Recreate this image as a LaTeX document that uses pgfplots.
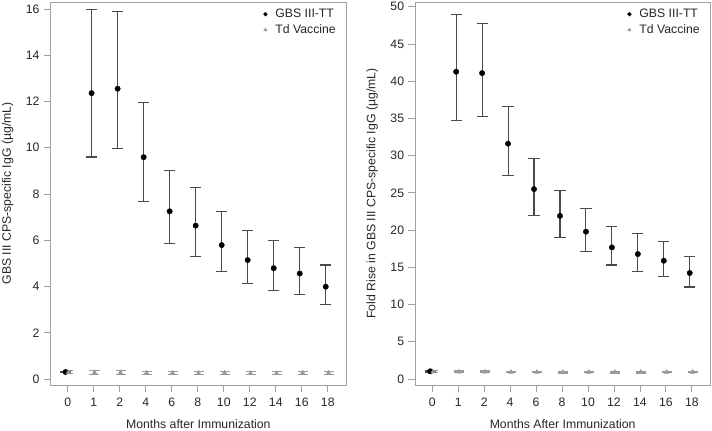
\documentclass[border=0pt]{standalone}
\usepackage{fontspec}
\setmainfont{Liberation Sans}
\usepackage{pgfplots}
\usepackage{pgfplotstable}
\pgfplotsset{compat=1.18}

\definecolor{spine}{HTML}{A0A0A0}
\definecolor{tdgray}{HTML}{999999}
\definecolor{bargray}{HTML}{4A4A4A}

\pgfplotstableread{
x      y      ep    em
-0.08  0.30   0.04  0.03
0.92   12.36  3.60  2.76
1.92   12.55  3.33  2.59
2.92   9.59   2.38  1.92
3.92   7.25   1.78  1.41
4.92   6.63   1.63  1.32
5.92   5.79   1.46  1.15
6.92   5.14   1.27  1.01
7.92   4.79   1.20  0.95
8.92   4.56   1.11  0.90
9.92   3.99   0.94  0.78
}\gbsL

\pgfplotstableread{
x      y      ep    em
0.03   0.29   0.07  0.07
1.03   0.28   0.07  0.07
2.03   0.28   0.07  0.07
3.03   0.27   0.07  0.07
4.03   0.27   0.07  0.07
5.03   0.25   0.07  0.06
6.03   0.27   0.07  0.07
7.03   0.25   0.07  0.06
8.03   0.25   0.07  0.06
9.03   0.27   0.07  0.07
10.03  0.26   0.07  0.07
}\tdL

\pgfplotstableread{
x      y      ep    em
-0.08  1.03   0.10  0.10
0.92   41.26  7.74  6.53
1.92   41.08  6.62  5.81
2.92   31.60  5.00  4.25
3.92   25.50  4.10  3.50
4.92   21.90  3.40  2.93
5.92   19.78  3.12  2.69
6.92   17.67  2.83  2.37
7.92   16.78  2.72  2.38
8.92   15.88  2.55  2.14
9.92   14.23  2.24  1.88
}\gbsR

\pgfplotstableread{
x      y      ep    em
0.03   0.97   0.12  0.12
1.03   0.95   0.12  0.12
2.03   0.95   0.12  0.12
3.03   0.93   0.12  0.12
4.03   0.93   0.12  0.12
5.03   0.92   0.12  0.12
6.03   0.93   0.12  0.12
7.03   0.92   0.12  0.12
8.03   0.92   0.12  0.12
9.03   0.93   0.12  0.12
10.03  0.93   0.12  0.12
}\tdR

\pgfplotsset{
  myaxis/.style={
    scale only axis,
    height=383bp,
    xmin=-0.654, xmax=10.70,
    xtick={0,...,10},
    xticklabels={0,1,2,4,6,8,10,12,14,16,18},
    tick pos=left,
    tick align=outside,
    major tick length=7bp,
    tick style={spine, line width=0.8bp},
    axis line style={spine, line width=0.8bp},
    every axis/.append style={font=\fontsize{12.3}{14}\selectfont},
    ticklabel style={font=\fontsize{12.3}{14}\selectfont, text=black!85},
    /pgf/number format/assume math mode=true,
    xticklabel style={inner sep=0pt, anchor=north, yshift=-5.5bp},
    yticklabel style={inner sep=0pt, anchor=east, xshift=-4bp},
    xlabel style={at={(rel axis cs:0.5,0)}, anchor=north, inner sep=0pt, yshift=-34bp, font=\fontsize{12.3}{14}\selectfont, text=black!85},
    ylabel style={anchor=north, inner sep=0pt, font=\fontsize{12.3}{14}\selectfont, text=black!85},
    legend style={at={(rel axis cs:1,1)}, anchor=north east, xshift=-8bp, yshift=-5bp,
      draw=none, fill=none, inner sep=0pt, row sep=1.5bp,
      font=\fontsize{12.3}{14}\selectfont, text=black!85},
    legend cell align=left,
    legend image code/.code={\path[draw=none, fill=none] (0bp,-2bp) rectangle (11bp,2bp); \draw[#1, mark size=1.9bp] plot coordinates {(3bp,0bp)};},
  },
  gbs/.style={only marks, mark=*, mark size=2.7bp, black, mark options={fill=black, draw=black},
    error bars/.cd, y dir=both, y explicit,
    error bar style={bargray, line width=1.1bp},
    error mark options={rotate=90, bargray, line width=1.1bp, mark size=5.6bp}},
  td/.style={only marks, mark=triangle*, mark size=2.6bp, tdgray, mark options={fill=tdgray, draw=tdgray},
    error bars/.cd, y dir=both, y explicit,
    error bar style={tdgray, line width=1.1bp},
    error mark options={rotate=90, tdgray, line width=1.1bp, mark size=5bp}},
}

\begin{document}
\begin{tikzpicture}
\useasboundingbox (0,0) rectangle (712bp,431bp);
\begin{axis}[myaxis,
  at={(50.7bp,46bp)}, anchor=south west,
  width=295.3bp,
  ymin=-0.26, ymax=16.30,
  ytick={0,2,...,16},
  xlabel={Months after Immunization},
  ylabel={GBS III CPS-specific IgG (µg/mL)},
  ylabel style={at={(axis description cs:-0.1659,0.5)}},
]
\addplot[gbs] table[x=x, y=y, y error plus=ep, y error minus=em] {\gbsL};
\addlegendentry{GBS III-TT}
\addplot[td] table[x=x, y=y, y error plus=ep, y error minus=em] {\tdL};
\addlegendentry{Td Vaccine}
\end{axis}

\begin{axis}[myaxis,
  at={(415.3bp,46bp)}, anchor=south west,
  width=294.7bp,
  ymin=-0.81, ymax=50.63,
  ytick={0,5,...,50},
  xlabel={Months After Immunization},
  ylabel={Fold Rise in GBS III CPS-specific IgG (µg/mL)},
  ylabel style={at={(axis description cs:-0.1663,0.5)}},
]
\addplot[gbs] table[x=x, y=y, y error plus=ep, y error minus=em] {\gbsR};
\addlegendentry{GBS III-TT}
\addplot[td] table[x=x, y=y, y error plus=ep, y error minus=em] {\tdR};
\addlegendentry{Td Vaccine}
\end{axis}
\end{tikzpicture}
\end{document}
